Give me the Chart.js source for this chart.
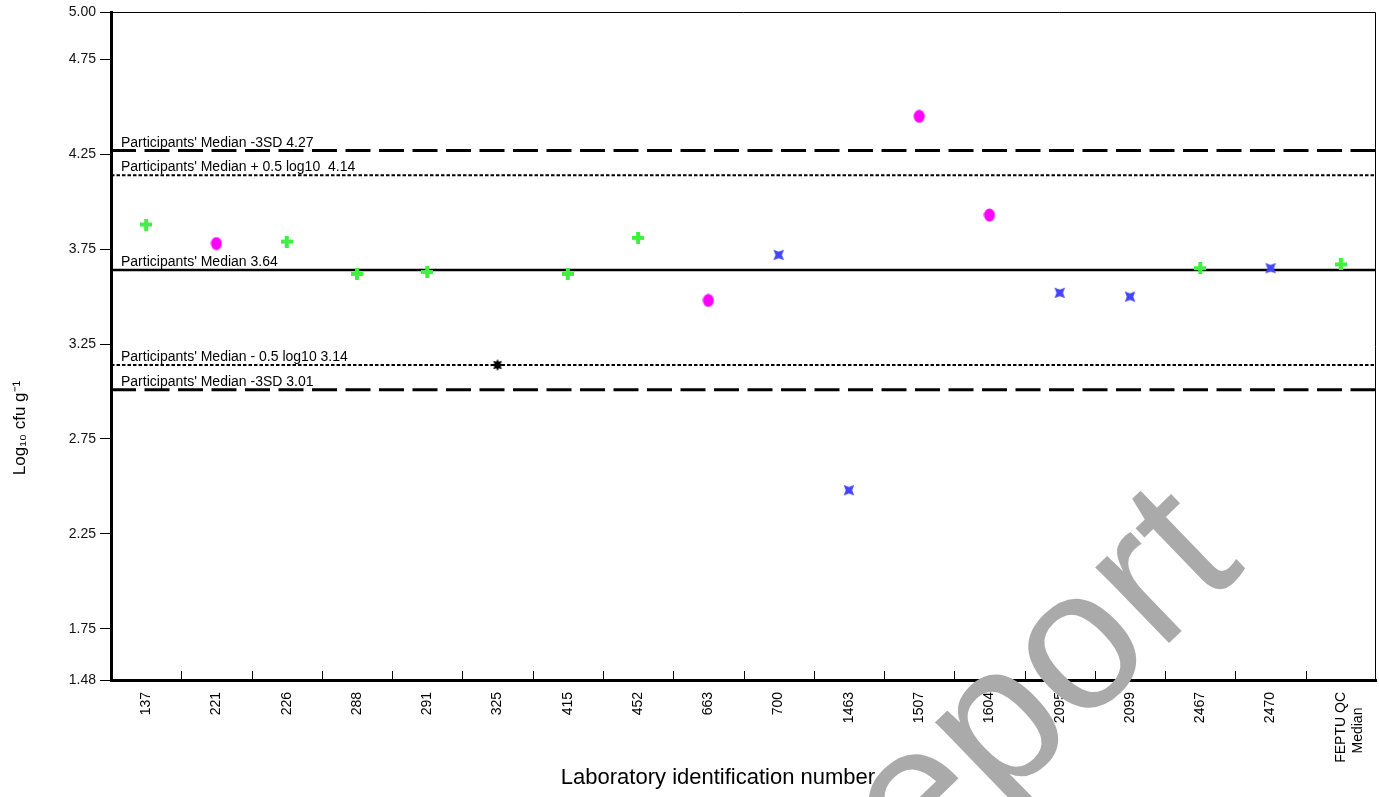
<!DOCTYPE html>
<html>
<head>
<meta charset="utf-8">
<script src="https://cdn.jsdelivr.net/npm/chart.js@4.4.0/dist/chart.umd.min.js"></script>
<style>
  html, body { margin:0; padding:0; background:#fff; }
  #wrap { width:1379px; height:797px; }
</style>
</head>
<body>
<div id="wrap"><canvas id="chart" width="1379" height="797"></canvas></div>
<script>
// Laboratory results (log10 cfu/g)

const labs = ['137','221','226','288','291','325','415','452','663','700','1463','1507','1604','2095','2099','2467','2470',['FEPTU QC','Median    ']];
const results = [3.88, 3.78, 3.79, 3.62, 3.63, 3.14, 3.62, 3.81, 3.48, 3.72, 2.48, 4.45, 3.93, 3.52, 3.50, 3.65, 3.65, 3.67];
const methods = ['A','B','A','A','A','D','A','A','B','C','C','B','B','C','C','A','C','A'];
const yTicks = [1.48, 1.75, 2.25, 2.75, 3.25, 3.75, 4.25, 4.75, 5.00];

const refValues = [4.27, 4.14, 3.64, 3.14, 3.01];
const refLabels = [
  "Participants' Median -3SD 4.27",
  "Participants' Median + 0.5 log10  4.14",
  "Participants' Median 3.64",
  "Participants' Median - 0.5 log10 3.14",
  "Participants' Median -3SD 3.01"
];
const refKinds = ['dash','dot','solid','dot','dash'];

const FONT = "'Liberation Sans', Arial, sans-serif";

// small canvases used as point markers
function makeMark(w, h, draw){
  const c = document.createElement('canvas');
  c.width = w; c.height = h;
  draw(c.getContext('2d'), w, h);
  return c;
}
const plusMark = makeMark(12, 12, (g)=>{
  g.fillStyle = '#40f040';
  g.fillRect(4, 0, 4, 12);
  g.fillRect(0, 4, 12, 4);
});
const dotMark = makeMark(12, 14, (g)=>{
  g.fillStyle = '#ff00ff';
  g.beginPath(); g.ellipse(6, 7, 5.5, 6.5, 0, 0, Math.PI*2); g.fill();
});
const starMark = makeMark(16, 16, (g)=>{
  g.fillStyle = '#4444ff';
  g.translate(8, 8);
  g.beginPath();
  for (let i = 0; i < 4; i++){
    const a = Math.PI/4 + i*Math.PI/2, b = a + Math.PI/4;
    g.lineTo(7.5*Math.cos(a), 7.5*Math.sin(a));
    g.lineTo(3.2*Math.cos(b), 3.2*Math.sin(b));
  }
  g.closePath(); g.fill();
});
const burstMark = makeMark(12, 12, (g)=>{
  g.fillStyle = '#000';
  g.translate(6, 6);
  g.beginPath();
  for (let i = 0; i < 8; i++){
    const a = i*Math.PI/4, b = a + Math.PI/8;
    g.lineTo(6*Math.cos(a), 6*Math.sin(a));
    g.lineTo(3.4*Math.cos(b), 3.4*Math.sin(b));
  }
  g.closePath(); g.fill();
});

const groupStyle = { A: plusMark, B: dotMark, C: starMark, D: burstMark };

const datasets = ['A','B','C','D'].map(m => ({
  label: m,
  data: results.map((v,i) => methods[i] === m ? v : null),
  showLine: false,
  pointStyle: groupStyle[m],
  pointRadius: 6,
  pointHoverRadius: 6
}));

// reference lines, frame and inward x ticks
const backdrop = {
  id: 'backdrop',
  beforeDatasetsDraw(chart){
    const {ctx, chartArea: a, scales: {x, y}} = chart;
    ctx.save();
    // thin top/right frame
    ctx.strokeStyle = '#000'; ctx.lineWidth = 1;
    ctx.beginPath();
    ctx.moveTo(a.left, a.top + 0.5); ctx.lineTo(a.right - 0.5, a.top + 0.5); ctx.lineTo(a.right - 0.5, a.bottom);
    ctx.stroke();
    // ticks between categories, pointing inward
    for (let i = 1; i < labs.length; i++){
      const px = Math.round((x.getPixelForValue(i-1) + x.getPixelForValue(i)) / 2) + 0.5;
      ctx.beginPath(); ctx.moveTo(px, a.bottom - 9); ctx.lineTo(px, a.bottom); ctx.stroke();
    }
    // median / limit lines
    refValues.forEach((v, i) => {
      const py = y.getPixelForValue(v);
      const kind = refKinds[i];
      ctx.beginPath();
      if (kind === 'dash'){ ctx.setLineDash([25, 8.5]); ctx.lineWidth = 3; }
      else if (kind === 'dot'){ ctx.setLineDash([3.5, 2]); ctx.lineWidth = 2; }
      else { ctx.setLineDash([]); ctx.lineWidth = 2.5; }
      ctx.moveTo(a.left, py); ctx.lineTo(a.right, py);
      ctx.stroke();
      ctx.setLineDash([]);
      ctx.fillStyle = '#000';
      ctx.font = `14px ${FONT}`;
      ctx.textAlign = 'left'; ctx.textBaseline = 'alphabetic';
      ctx.fillText(refLabels[i], a.left + 10, py - 4);
    });
    ctx.restore();
  }
};

// axis titles + watermark
const overlay = {
  id: 'overlay',
  afterDraw(chart){
    const {ctx} = chart;
    ctx.save();
    ctx.fillStyle = '#000';
    ctx.font = `17px ${FONT}`;
    ctx.textAlign = 'center'; ctx.textBaseline = 'middle';
    ctx.translate(20, 428); ctx.rotate(-Math.PI/2);
    ctx.fillText('Log₁₀ cfu g⁻¹', 0, 0);
    ctx.restore();

    ctx.save();
    ctx.fillStyle = '#000';
    ctx.font = `22px ${FONT}`;
    ctx.textAlign = 'center'; ctx.textBaseline = 'middle';
    ctx.fillText('Laboratory identification number', 718, 778);
    ctx.restore();

    ctx.save();
    ctx.fillStyle = '#aaaaaa';
    ctx.font = `200px ${FONT}`;
    ctx.textAlign = 'left'; ctx.textBaseline = 'alphabetic';
    ctx.translate(815, 985); ctx.rotate(-44 * Math.PI/180);
    ctx.fillText('Report', 0, 0);
    ctx.restore();
  }
};

new Chart(document.getElementById('chart').getContext('2d'), {
  type: 'line',
  data: { labels: labs, datasets },
  options: {
    responsive: false,
    animation: false,
    devicePixelRatio: 1,
    layout: { autoPadding: false, padding: { top: 12, right: 3, left: 0, bottom: 0 } },
    plugins: { legend: { display: false }, tooltip: { enabled: false } },
    scales: {
      x: {
        type: 'category',
        offset: true,
        grid: { display: true, offset: true, drawOnChartArea: false, drawTicks: false },
        border: { display: true, color: '#000', width: 3 },
        ticks: { autoSkip: false, maxRotation: 90, minRotation: 90, padding: 12, color: '#000', font: { family: FONT, size: 14 } },
        afterFit: s => { s.height = 117; s.paddingRight = 0; s.paddingLeft = 0; }
      },
      y: {
        min: 1.48, max: 5.0,
        afterBuildTicks: s => { s.ticks = yTicks.map(v => ({ value: v })); },
        grid: { drawOnChartArea: false, drawTicks: true, tickLength: 11, color: '#000' },
        border: { display: true, color: '#000', width: 3 },
        ticks: { padding: 4, color: '#111', font: { family: FONT, size: 14 }, callback: v => Number(v).toFixed(2) },
        afterFit: s => { s.width = 111; s.paddingTop = 0; s.paddingBottom = 0; }
      }
    }
  },
  plugins: [backdrop, overlay]
});
</script>
</body>
</html>
